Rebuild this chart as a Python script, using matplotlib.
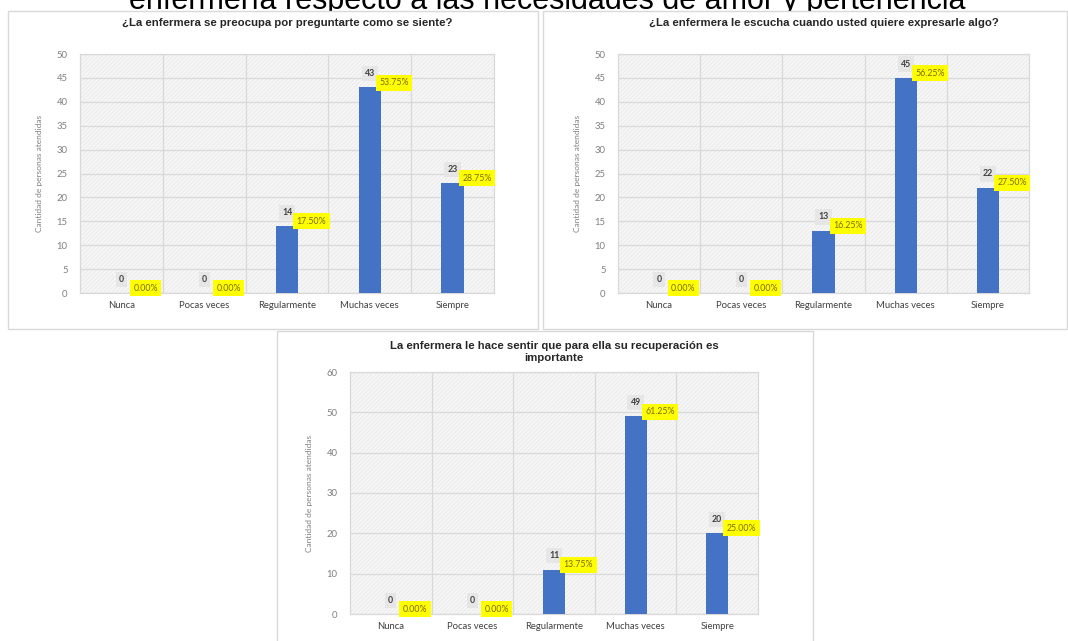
import matplotlib.pyplot as plt
from matplotlib.patches import Rectangle

W, H = 1068, 641

categorias = ["Nunca", "Pocas veces", "Regularmente", "Muchas veces", "Siempre"]

titulo_1 = "¿La enfermera se preocupa por preguntarte como se siente?"
cantidad_1 = [0, 0, 14, 43, 23]
porcentaje_1 = ["0.00%", "0.00%", "17.50%", "53.75%", "28.75%"]

titulo_2 = "¿La enfermera le escucha cuando usted quiere expresarle algo?"
cantidad_2 = [0, 0, 13, 45, 22]
porcentaje_2 = ["0.00%", "0.00%", "16.25%", "56.25%", "27.50%"]

titulo_3 = "La enfermera le hace sentir que para ella su recuperación es\nimportante"
cantidad_3 = [0, 0, 11, 49, 20]
porcentaje_3 = ["0.00%", "0.00%", "13.75%", "61.25%", "25.00%"]

titulo_general = "enfermería respecto a las necesidades de amor y pertenencia"

fig = plt.figure(figsize=(W / 100, H / 100), dpi=100)
fig.patch.set_facecolor("white")
plt.rcParams["hatch.linewidth"] = 0.6


def caja(x0, y0, x1, y1):
    # marco gris de cada grafico, en pixeles desde arriba a la izquierda
    r = Rectangle((x0 / W, 1 - y1 / H), (x1 - x0) / W, (y1 - y0) / H,
                  transform=fig.transFigure, facecolor="white",
                  edgecolor="#d9d9d9", lw=1.0, zorder=1)
    fig.patches.append(r)


def grafico(x0, y0, x1, y1, titulo, titulo_y, cantidad, porcentaje, ymax, paso):
    ax = fig.add_axes([x0 / W, 1 - y1 / H, (x1 - x0) / W, (y1 - y0) / H])
    ax.set_zorder(2)
    ax.set_facecolor("#f6f6f6")
    ax.add_patch(Rectangle((0, 0), 1, 1, transform=ax.transAxes,
                           facecolor="none", edgecolor="#e9e9e9", hatch="////////",
                           lw=0, zorder=0))
    x = list(range(len(categorias)))
    ax.bar(x, cantidad, width=0.27, color="#4472c4", zorder=3)
    ax.set_xlim(-0.5, len(categorias) - 0.5)
    ax.set_ylim(0, ymax)
    ax.set_yticks(range(0, ymax + 1, paso))
    ax.set_xticks(x)
    ax.set_xticklabels(categorias, fontsize=6.8, color="#404040", family="Lato")
    ax.tick_params(axis="y", length=0, pad=9, labelsize=6.8, labelcolor="#7f7f7f")
    ax.tick_params(axis="x", length=0, pad=6)
    for lab in ax.get_yticklabels():
        lab.set_family("Lato")
    ax.yaxis.grid(True, color="#d9d9d9", lw=0.9, zorder=1)
    for b in [i + 0.5 for i in x[:-1]]:
        ax.axvline(b, color="#d9d9d9", lw=0.9, zorder=1)
    for s in ax.spines.values():
        s.set_color("#d9d9d9")
        s.set_linewidth(0.9)
    ax.set_ylabel("Cantidad de personas atendidas", fontsize=6, color="#7f7f7f",
                  family="Lato")
    ax.yaxis.set_label_coords(-37 / (x1 - x0), 0.5)
    ax.set_title(titulo, fontsize=8.2, fontweight="bold", color="#262626",
                 family="Liberation Sans", pad=0, y=1 + titulo_y / (y1 - y0),
                 va="bottom", linespacing=1.3)

    for i, v in enumerate(cantidad):
        ax.annotate(str(v), (i, v), xytext=(0, 10), textcoords="offset points",
                    ha="center", va="center", fontsize=6.3, fontweight="bold",
                    color="#404040", family="Lato", zorder=5,
                    bbox=dict(boxstyle="square,pad=0.35", fc="#e6e6e6", ec="none"))
        ax.annotate(porcentaje[i], (i, v), xytext=(17.5, 3.5),
                    textcoords="offset points", ha="center", va="center",
                    fontsize=6.3, color="#7a6a00", family="Lato", zorder=5,
                    bbox=dict(boxstyle="square,pad=0.4", fc="#ffff00", ec="none"))
    return ax


caja(8, 11, 538, 329)
caja(543, 11, 1067, 329)
caja(277, 331, 813, 645)

grafico(80, 54, 494, 293, titulo_1, 26, cantidad_1, porcentaje_1, 50, 5)
grafico(618, 54, 1029, 293, titulo_2, 26, cantidad_2, porcentaje_2, 50, 5)
grafico(350, 372, 758, 614, titulo_3, 9, cantidad_3, porcentaje_3, 60, 10)

fig.text(547 / W, 1 - 9.5 / H, titulo_general, ha="center", va="baseline",
         fontsize=22, color="#000000", family="Liberation Sans", zorder=0.5)

fig.savefig("out.png", dpi=100)
